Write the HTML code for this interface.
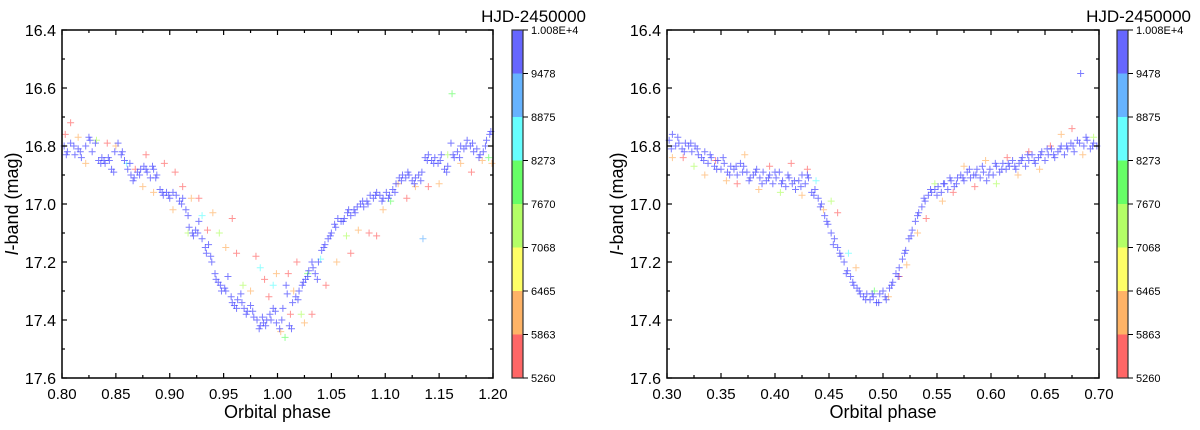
<!DOCTYPE html>
<html><head><meta charset="utf-8"><style>
html,body{margin:0;padding:0;background:#fff;width:1200px;height:430px;overflow:hidden}
svg text{font-family:"Liberation Sans",Arial,sans-serif;fill:#000}
</style></head><body>
<svg id="chart" width="1200" height="430" xmlns="http://www.w3.org/2000/svg"></svg>
<script>
const yTicks=[16.4,16.6,16.8,17.0,17.2,17.4,17.6];
const xTicksL=[0.80,0.85,0.90,0.95,1.00,1.05,1.10,1.15,1.20];
const xTicksR=[0.30,0.35,0.40,0.45,0.50,0.55,0.60,0.65,0.70];
const cbLabels=["5260","5863","6465","7068","7670","8273","8875","9478","1.008E+4"];
const cbBounds=[5260,5863,6465,7068,7670,8273,8875,9478,10080];
const cbColors=["#ff6666","#ffb366","#ffff66","#b3ff66","#66ff66","#66ffff","#66b3ff","#6666ff"];

const phaseL=[0.802,0.805,0.808,0.812,0.815,0.818,0.822,0.825,0.828,0.831,0.834,0.837,0.840,0.843,0.846,0.849,0.852,0.855,0.858,0.861,0.864,0.867,0.870,0.873,0.876,0.879,0.882,0.885,0.888,0.891,0.894,0.897,0.900,0.903,0.906,0.909,0.912,0.915,0.918,0.921,0.924,0.927,0.930,0.933,0.936,0.939,0.942,0.945,0.948,0.951,0.954,0.957,0.960,0.963,0.966,0.969,0.972,0.975,0.978,0.981,0.984,0.987,0.990,0.993,0.996,0.999,1.002,1.005,1.008,1.011,1.014,1.017,1.020,1.023,1.026,1.029,1.032,1.035,1.038,1.041,1.044,1.047,1.050,1.053,1.056,1.059,1.062,1.065,1.068,1.071,1.074,1.077,1.080,1.083,1.086,1.089,1.092,1.095,1.098,1.101,1.104,1.107,1.110,1.113,1.116,1.119,1.122,1.125,1.128,1.131,1.134,1.137,1.140,1.143,1.146,1.149,1.152,1.155,1.158,1.161,1.164,1.167,1.170,1.173,1.176,1.179,1.182,1.185,1.188,1.191,1.194,1.197,
0.803,0.808,0.815,0.822,0.832,0.842,0.850,0.860,0.868,0.875,0.878,0.885,0.895,0.905,0.903,0.912,0.917,0.920,0.927,0.930,0.935,0.940,0.946,0.952,0.958,0.962,0.968,0.975,0.980,0.984,0.988,0.992,0.996,0.999,1.003,1.007,1.010,1.012,1.015,1.018,1.022,1.025,1.028,1.032,1.040,1.045,1.055,1.064,1.068,1.075,1.085,1.092,1.098,1.105,1.112,1.120,1.128,1.135,1.140,1.150,1.158,1.162,1.170,1.180,1.190,1.196,1.199];
const magL=[16.80,16.82,16.79,16.83,16.81,16.84,16.80,16.77,16.82,16.79,16.85,16.84,16.86,16.84,16.88,16.82,16.79,16.83,16.85,16.88,16.90,16.91,16.89,16.88,16.87,16.89,16.91,16.88,16.90,16.95,16.97,16.96,16.98,16.96,16.97,16.99,16.98,17.02,17.08,17.10,17.09,17.06,17.12,17.15,17.14,17.20,17.24,17.27,17.30,17.29,17.25,17.32,17.35,17.33,17.31,17.36,17.37,17.35,17.39,17.40,17.42,17.41,17.40,17.38,17.36,17.41,17.43,17.36,17.28,17.42,17.34,17.32,17.30,17.28,17.26,17.23,17.20,17.24,17.20,17.16,17.14,17.12,17.10,17.07,17.05,17.06,17.05,17.03,17.04,17.02,17.01,17.00,17.01,16.99,16.97,16.98,16.96,16.97,16.98,16.96,16.97,16.95,16.93,16.91,16.90,16.91,16.90,16.92,16.91,16.90,16.89,16.84,16.83,16.85,16.84,16.86,16.83,16.88,16.87,16.79,16.84,16.82,16.80,16.81,16.78,16.80,16.82,16.81,16.83,16.82,16.78,16.76,
16.76,16.72,16.77,16.86,16.78,16.79,16.80,16.86,16.88,16.94,16.83,16.96,16.86,16.89,17.02,16.94,17.10,16.98,16.98,17.04,17.09,17.03,17.10,17.15,17.05,17.17,17.28,17.30,17.18,17.22,17.26,17.32,17.28,17.24,17.44,17.46,17.24,17.38,17.30,17.20,17.38,17.41,17.24,17.38,17.19,17.28,17.20,17.11,17.17,17.09,17.10,17.11,17.02,16.99,16.93,16.98,16.94,17.12,16.94,16.93,16.83,16.62,16.86,16.89,16.85,16.84,16.86];
const hjdL=[].concat(new Array(132).fill(9800),[5500,5500,6200,6200,7300,5500,6000,8500,5500,6200,5500,6000,5500,5500,6200,5500,7300,6000,5500,8500,5500,6200,7300,6000,5500,5500,7300,6200,5500,8500,5500,5500,8500,6000,6200,7900,5500,5500,6200,5500,7300,6200,7900,5500,8500,5500,6200,7300,5500,6000,5500,5500,6200,7900,6000,5500,6200,9300,5500,6000,7300,7900,6200,5500,6000,8000,6200]);
const phaseL2=[0.804,0.811,0.817,0.826,0.836,0.839,0.844,0.848,0.856,0.863,0.866,0.872,0.878,0.884,0.887,0.893,0.899,0.911,0.917,0.922,0.926,0.934,0.938,0.943,0.947,0.952,0.958,0.962,0.967,0.971,0.977,0.983,0.986,0.989,0.994,0.998,1.004,1.009,1.013,1.019,1.024,1.028,1.033,1.037,1.043,1.049,1.054,1.061,1.066,1.072,1.079,1.084,1.091,1.097,1.103,1.109,1.115,1.121,1.127,1.133,1.139,1.145,1.151,1.157,1.163,1.169,1.175,1.181,1.187,1.193,1.198];
const magL2=[16.83,16.80,16.82,16.78,16.86,16.85,16.85,16.89,16.82,16.86,16.92,16.90,16.88,16.87,16.91,16.96,16.97,17.00,17.04,17.11,17.10,17.17,17.18,17.26,17.28,17.30,17.34,17.36,17.34,17.38,17.37,17.43,17.39,17.42,17.40,17.37,17.40,17.31,17.43,17.33,17.27,17.25,17.22,17.26,17.15,17.11,17.08,17.06,17.02,17.03,16.99,17.00,16.97,16.99,16.98,16.96,16.92,16.89,16.93,16.92,16.85,16.86,16.85,16.89,16.83,16.84,16.80,16.79,16.84,16.80,16.75];

const phaseR=[0.302,0.305,0.308,0.311,0.314,0.317,0.320,0.323,0.326,0.329,0.332,0.335,0.338,0.341,0.344,0.347,0.350,0.353,0.356,0.359,0.362,0.365,0.368,0.371,0.374,0.377,0.380,0.383,0.386,0.389,0.392,0.395,0.398,0.401,0.404,0.407,0.410,0.413,0.416,0.419,0.422,0.425,0.428,0.431,0.434,0.437,0.440,0.443,0.446,0.449,0.452,0.455,0.458,0.461,0.464,0.467,0.470,0.473,0.476,0.479,0.482,0.485,0.488,0.491,0.494,0.497,0.500,0.503,0.506,0.509,0.512,0.515,0.518,0.521,0.524,0.527,0.530,0.533,0.536,0.539,0.542,0.545,0.548,0.551,0.554,0.557,0.560,0.563,0.566,0.569,0.572,0.575,0.578,0.581,0.584,0.587,0.590,0.593,0.596,0.599,0.602,0.605,0.608,0.611,0.614,0.617,0.620,0.623,0.626,0.629,0.632,0.635,0.638,0.641,0.644,0.647,0.650,0.653,0.656,0.659,0.662,0.665,0.668,0.671,0.674,0.677,0.680,0.683,0.686,0.689,0.692,0.695,0.698,
0.305,0.315,0.325,0.335,0.345,0.355,0.365,0.372,0.385,0.395,0.405,0.415,0.425,0.430,0.438,0.445,0.452,0.458,0.468,0.475,0.492,0.505,0.515,0.522,0.532,0.540,0.548,0.555,0.565,0.575,0.585,0.595,0.605,0.615,0.625,0.635,0.645,0.655,0.665,0.675,0.685,0.695];
const magR=[16.78,16.76,16.80,16.79,16.81,16.79,16.80,16.82,16.80,16.83,16.84,16.82,16.86,16.84,16.87,16.85,16.88,16.86,16.89,16.87,16.88,16.90,16.86,16.87,16.89,16.91,16.90,16.88,16.91,16.89,16.92,16.90,16.93,16.91,16.89,16.92,16.94,16.91,16.93,16.95,16.92,16.90,16.93,16.91,16.96,16.95,16.98,17.00,17.04,17.07,17.10,17.12,17.15,17.18,17.20,17.23,17.25,17.28,17.29,17.31,17.32,17.31,17.33,17.32,17.34,17.31,17.30,17.33,17.29,17.27,17.24,17.22,17.19,17.16,17.12,17.09,17.06,17.03,17.01,16.99,16.97,16.96,16.95,16.94,16.96,16.93,16.95,16.92,16.94,16.91,16.90,16.92,16.89,16.91,16.90,16.88,16.91,16.89,16.92,16.88,16.90,16.87,16.89,16.86,16.88,16.87,16.85,16.88,16.86,16.84,16.87,16.85,16.83,16.86,16.84,16.82,16.85,16.83,16.81,16.84,16.82,16.80,16.83,16.81,16.79,16.82,16.78,16.55,16.80,16.78,16.81,16.79,16.80,
16.84,16.84,16.87,16.90,16.85,16.92,16.93,16.83,16.95,16.87,16.96,16.86,16.97,16.88,16.92,17.02,16.99,17.03,17.17,17.22,17.30,17.32,17.25,17.21,17.10,17.05,16.93,16.99,16.96,16.87,16.94,16.85,16.93,16.84,16.90,16.82,16.88,16.80,16.76,16.74,16.83,16.77];
const hjdR=[].concat(new Array(133).fill(9800),[6200,5500,7300,6000,5500,6200,5500,6000,6200,5500,7300,5500,6000,5500,8500,6200,7300,5500,8500,6000,7900,6200,5500,6200,6000,5500,7300,6200,5500,6000,5500,6200,7300,5500,6000,5500,6200,5500,6000,5500,6200,7300]);
const phaseR2=[0.304,0.310,0.316,0.322,0.328,0.334,0.340,0.346,0.352,0.358,0.364,0.370,0.376,0.382,0.388,0.394,0.400,0.406,0.412,0.418,0.424,0.430,0.436,0.442,0.448,0.454,0.460,0.466,0.472,0.478,0.484,0.490,0.496,0.502,0.508,0.514,0.520,0.526,0.532,0.538,0.544,0.550,0.556,0.562,0.568,0.574,0.580,0.586,0.592,0.598,0.604,0.610,0.616,0.622,0.628,0.634,0.640,0.646,0.652,0.658,0.664,0.670,0.676,0.682,0.688,0.694];
const magR2=[16.81,16.77,16.82,16.79,16.81,16.85,16.83,16.88,16.84,16.90,16.87,16.89,16.92,16.89,16.93,16.91,16.89,16.93,16.90,16.92,16.94,16.90,16.97,17.01,17.06,17.14,17.17,17.24,17.27,17.30,17.33,17.31,17.34,17.32,17.28,17.25,17.17,17.11,17.04,16.98,16.95,16.97,16.93,16.91,16.93,16.91,16.88,16.90,16.87,16.90,16.86,16.88,16.86,16.87,16.85,16.83,16.85,16.83,16.81,16.83,16.81,16.80,16.80,16.79,16.77,16.80];

const NS="http://www.w3.org/2000/svg";
const svg=document.getElementById('chart');
function mk(tag,attrs,parent){const e=document.createElementNS(NS,tag);for(const k in attrs)e.setAttribute(k,attrs[k]);(parent||svg).appendChild(e);return e;}
function colorFor(v){for(let i=0;i<8;i++){if(v<cbBounds[i+1])return cbColors[i];}return cbColors[7];}

function panel(id,x0,x1,xmin,xmax,xTicks,phase,mag,hjd,phase2,mag2,cbx){
  const y0=30,y1=378,ymin=16.4,ymax=17.6;
  const sx=v=>x0+(v-xmin)/(xmax-xmin)*(x1-x0);
  const sy=v=>y0+(v-ymin)/(ymax-ymin)*(y1-y0);
  const g=mk('g',{});
  
  
  const pts=mk('g',{'stroke-width':1},g);
  
  
  function plus(px,py,col,op){
    const p=mk('path',{d:`M${px-3.5},${py}h7M${px},${py-3.5}v7`,stroke:col,'stroke-opacity':op},pts);
    
    
  }
  for(let i=0;i<phase.length;i++){
    const c=colorFor(hjd[i]);
    if(c==='#6666ff') continue;
    plus(sx(phase[i]),sy(mag[i]),c,0.7);
  }
  for(let i=0;i<phase.length;i++){
    const c=colorFor(hjd[i]);
    if(c!=='#6666ff') continue;
    plus(sx(phase[i]),sy(mag[i]),'#4444ff',0.7);
  }
  for(let i=0;i<phase2.length;i++){
    plus(sx(phase2[i]),sy(mag2[i]),'#4444ff',0.7);
  }
  const fr=mk('rect',{x:x0,y:y0,width:x1-x0,height:y1-y0,fill:'none',stroke:'#000','stroke-width':1.5},g);
  
  
  const ax=mk('g',{stroke:'#000','stroke-width':1.2},g);
  for(let i=0;i<xTicks.length;i++){
    const x=sx(xTicks[i]);
    mk('line',{x1:x,y1:y1,x2:x,y2:y1-5},ax);mk('line',{x1:x,y1:y0,x2:x,y2:y0+5},ax);
    if(i<xTicks.length-1){const xm=sx((xTicks[i]+xTicks[i+1])/2);
      mk('line',{x1:xm,y1:y1,x2:xm,y2:y1-3},ax);mk('line',{x1:xm,y1:y0,x2:xm,y2:y0+3},ax);}
    const t=mk('text',{x:x,y:y1+21,'text-anchor':'middle','font-size':15},g);t.textContent=xTicks[i].toFixed(2);
    
    
  }
  for(let i=0;i<yTicks.length;i++){
    const y=sy(yTicks[i]);
    mk('line',{x1:x0,y1:y,x2:x0+5,y2:y},ax);mk('line',{x1:x1,y1:y,x2:x1-5,y2:y},ax);
    if(i<yTicks.length-1){const ym=sy(yTicks[i]+0.1);
      mk('line',{x1:x0,y1:ym,x2:x0+3,y2:ym},ax);mk('line',{x1:x1,y1:ym,x2:x1-3,y2:ym},ax);}
    const t=mk('text',{x:x0-6,y:y+6,'text-anchor':'end','font-size':16},g);t.textContent=yTicks[i].toFixed(1);
    
    
  }
  const xt=mk('text',{x:(x0+x1)/2,y:418,'text-anchor':'middle','font-size':18},g);xt.textContent='Orbital phase';
  
  
  const yt=mk('text',{x:0,y:0,'text-anchor':'middle','font-size':18,transform:`translate(${x0-44},${(y0+y1)/2}) rotate(-90)`},g);
  yt.innerHTML='<tspan font-style="italic">I</tspan>-band (mag)';
  
  
  const cb=mk('g',{},g);
  
  
  const cw=11,seg=(y1-y0)/8;
  for(let i=0;i<8;i++){
    const r=mk('rect',{x:cbx,y:y1-(i+1)*seg,width:cw,height:seg,fill:cbColors[i]},cb);
    
    
  }
  mk('rect',{x:cbx,y:y0,width:cw,height:y1-y0,fill:'none',stroke:'#333','stroke-width':1.2},cb);
  for(let i=0;i<9;i++){
    const y=y1-i*seg;
    mk('line',{x1:cbx+cw,y1:y,x2:cbx+cw+5,y2:y,stroke:'#000','stroke-width':1},cb);
    const t=mk('text',{x:cbx+cw+8,y:y+4,'font-size':11},cb);t.textContent=cbLabels[i];
    
    
  }
  const ct=mk('text',{x:cbx+cw+63,y:22,'text-anchor':'end','font-size':17},g);ct.textContent='HJD-2450000';
  
  
}
panel('left',62,493,0.8,1.2,xTicksL,phaseL,magL,hjdL,phaseL2,magL2,512);
panel('right',667,1099,0.3,0.7,xTicksR,phaseR,magR,hjdR,phaseR2,magR2,1117);
</script>
</body></html>
